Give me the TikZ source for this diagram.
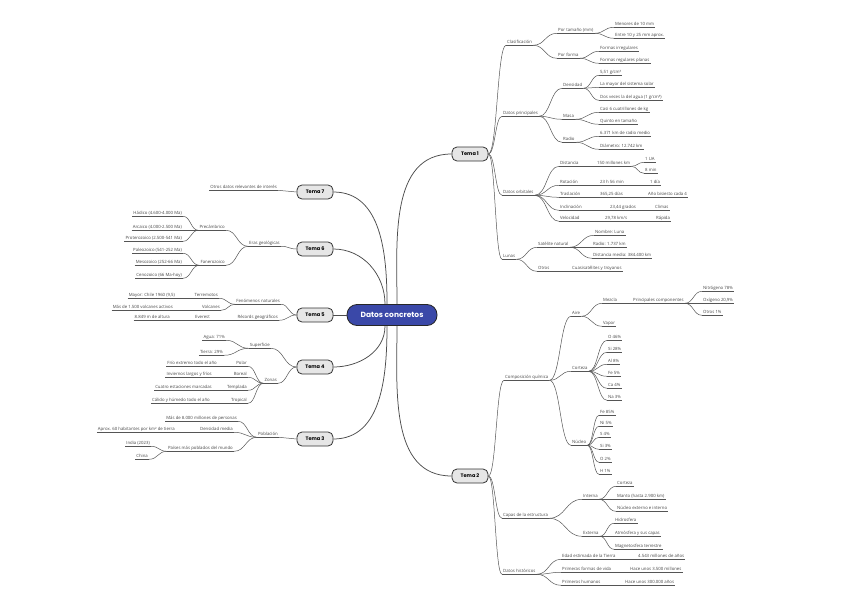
\documentclass[tikz,border=0pt]{standalone}
\usepackage{fontspec}
\setmainfont{Open Sans}
\newfontfamily\popp{Poppins}
\usetikzlibrary{calc}
\definecolor{lnc}{HTML}{555555}
\definecolor{cblue}{HTML}{3A48A8}
\definecolor{tgray}{HTML}{E6E6E6}
\tikzset{
 leaf/.style={font=\fontsize{4.3}{5}\selectfont, text=black!72, inner xsep=1pt, inner ysep=1pt, text height=3.2pt, text depth=1pt},
 uline/.style={draw=lnc, line width=0.55pt},
 link/.style={draw=lnc, line width=0.5pt},
 mainlink/.style={draw=black!70, line width=0.75pt},
 tema/.style={draw=black!80, fill=tgray, line width=0.8pt, rounded corners=5pt, minimum width=36pt, minimum height=14pt, inner sep=0pt, font=\popp\bfseries\fontsize{5}{6}\selectfont},
 central/.style={draw=black!85, fill=cblue, line width=0.8pt, rounded corners=10pt, minimum width=90pt, minimum height=21pt, text=white, font=\popp\bfseries\fontsize{7.5}{9}\selectfont}
}
\newcommand\nR[4]{\node[leaf,anchor=west] (#1) at (#2,#3) {#4};\draw[uline] (#1.south west) -- (#1.south east);}
\newcommand\nL[4]{\node[leaf,anchor=east] (#1) at (#2,#3) {#4};\draw[uline] (#1.south west) -- (#1.south east);}
\newcommand\lk[2]{\draw[link] let \p1=(#1), \p2=(#2) in (\p1) .. controls ({0.5*\x1+0.5*\x2},\y1) and ({0.5*\x1+0.5*\x2},\y2) .. (\p2);}
\newcommand\lkR[2]{\lk{#1.south east}{#2.south west}}
\newcommand\lkL[2]{\lk{#1.south west}{#2.south east}}
\begin{document}
\begin{tikzpicture}[x=1pt,y=-1pt]
\fill[white] (0,0) rectangle (848,599);
\useasboundingbox (0,0) rectangle (848,599);
% ---------- central ----------
\node[central] (c) at (392,315) {Datos concretos};
\node[tema] (t1) at (470,154) {Tema 1};
\node[tema] (t2) at (470,476) {Tema 2};
\node[tema] (t7) at (315,192) {Tema 7};
\node[tema] (t6) at (315,249) {Tema 6};
\node[tema] (t5) at (315,315) {Tema 5};
\node[tema] (t4) at (315,367) {Tema 4};
\node[tema] (t3) at (315,439) {Tema 3};
\draw[mainlink] ([xshift=5pt]c.north) to[out=90,in=180] (t1.west);
\draw[mainlink] ([xshift=5pt]c.south) to[out=-90,in=180] (t2.west);
\draw[mainlink] ([xshift=-5pt]c.north) to[out=90,in=0] (t7.east);
\draw[mainlink] ([xshift=-7pt]c.north) to[out=90,in=0] (t6.east);
\draw[mainlink] (c.west) -- (t5.east);
\draw[mainlink] ([xshift=-7pt]c.south) to[out=-90,in=0] (t4.east);
\draw[mainlink] ([xshift=-5pt]c.south) to[out=-90,in=0] (t3.east);
% ---------- Tema 1 ----------
\nR{a1}{506}{42}{Clasificación}
\nR{a11}{557}{30}{Por tamaño (mm)}
\nR{a111}{614}{24}{Menores de 10 mm}
\nR{a112}{614}{35}{Entre 10 y 25 mm aprox.}
\nR{a12}{557}{55}{Por forma}
\nR{a121}{599}{48}{Formas irregulares}
\nR{a122}{599}{60}{Formas regulares planas}
\nR{a2}{502}{113}{Datos principales}
\nR{a21}{562}{85}{Densidad}
\nR{a211}{599}{72}{5,51 g/cm³}
\nR{a212}{599}{84}{La mayor del sistema solar}
\nR{a213}{599}{97}{Dos veces la del agua (1 g/cm³)}
\nR{a22}{562}{116}{Masa}
\nR{a221}{599}{109}{Casi 6 cuatrillones de kg}
\nR{a222}{599}{121}{Quinto en tamaño}
\nR{a23}{562}{139}{Radio}
\nR{a231}{599}{133}{6.371 km de radio medio}
\nR{a232}{599}{146}{Diámetro: 12.742 km}
\nR{a3}{502}{192}{Datos orbitales}
\nR{r1a}{559}{163}{Distancia}
\nR{r1b}{596}{163}{150 millones km}
\nR{r1c}{644}{159}{1 UA}
\nR{r1d}{644}{170}{8 min}
\nR{r2a}{559}{182}{Rotación}
\nR{r2b}{599}{182}{23 h 56 min}
\nR{r2c}{649}{182}{1 día}
\nR{r3a}{559}{194}{Traslación}
\nR{r3b}{599}{194}{365,25 días}
\nR{r3c}{647}{194}{Año bisiesto cada 4}
\nR{r4a}{559}{207}{Inclinación}
\nR{r4b}{609}{207}{23,44 grados}
\nR{r4c}{654}{207}{Climas}
\nR{r5a}{559}{218}{Velocidad}
\nR{r5b}{604}{218}{29,78 km/s}
\nR{r5c}{655}{218}{Rápida}
\nR{a4}{502}{256}{Lunas}
\nR{a41}{537}{244}{Satélite natural}
\nR{a411}{594}{232}{Nombre: Luna}
\nR{a412}{592}{244}{Radio: 1.737 km}
\nR{a413}{592}{255}{Distancia media: 384.400 km}
\nR{a42}{537}{268}{Otros}
\nR{a421}{571}{268}{Cuasisatélites y troyanos}
\lk{t1.east}{a1.south west}
\lk{t1.east}{a2.south west}
\lk{t1.east}{a3.south west}
\lk{t1.east}{a4.south west}
\lkR{a1}{a11}\lkR{a1}{a12}
\lkR{a11}{a111}\lkR{a11}{a112}
\lkR{a12}{a121}\lkR{a12}{a122}
\lkR{a2}{a21}\lkR{a2}{a22}\lkR{a2}{a23}
\lkR{a21}{a211}\lkR{a21}{a212}\lkR{a21}{a213}
\lkR{a22}{a221}\lkR{a22}{a222}
\lkR{a23}{a231}\lkR{a23}{a232}
\lkR{a3}{r1a}\lkR{a3}{r2a}\lkR{a3}{r3a}\lkR{a3}{r4a}\lkR{a3}{r5a}
\lkR{r1a}{r1b}\lkR{r1b}{r1c}\lkR{r1b}{r1d}
\lkR{r2a}{r2b}\lkR{r2b}{r2c}
\lkR{r3a}{r3b}\lkR{r3b}{r3c}
\lkR{r4a}{r4b}\lkR{r4b}{r4c}
\lkR{r5a}{r5b}\lkR{r5b}{r5c}
\lkR{a4}{a41}\lkR{a4}{a42}
\lkR{a41}{a411}\lkR{a41}{a412}\lkR{a41}{a413}
\lkR{a42}{a421}
% ---------- Tema 2 ----------
\nR{b1}{504}{377}{Composición química}
\nR{b11}{571}{313}{Aire}
\nR{b111}{602}{300}{Mezcla}
\nR{b112}{632}{300}{Principales componentes}
\nR{b1121}{702}{288}{Nitrógeno 78\%}
\nR{b1122}{702}{300}{Oxígeno 20,9\%}
\nR{b1123}{702}{312}{Otros 1\%}
\nR{b113}{602}{323}{Vapor}
\nR{b12}{571}{368}{Corteza}
\nR{b121}{607}{337}{O 46\%}
\nR{b122}{607}{349}{Si 28\%}
\nR{b123}{607}{361}{Al 8\%}
\nR{b124}{607}{373}{Fe 5\%}
\nR{b125}{607}{385}{Ca 4\%}
\nR{b126}{607}{397}{Na 3\%}
\nR{b13}{571}{442}{Núcleo}
\nR{b131}{599}{412}{Fe 85\%}
\nR{b132}{599}{423}{Ni 5\%}
\nR{b133}{599}{434}{S 4\%}
\nR{b134}{599}{446}{Si 3\%}
\nR{b135}{599}{459}{O 2\%}
\nR{b136}{599}{471}{H 1\%}
\nR{b2}{502}{515}{Capas de la estructura}
\nR{b21}{582}{496}{Interna}
\nR{b211}{616}{483}{Corteza}
\nR{b212}{616}{496}{Manto (hasta 2.900 km)}
\nR{b213}{616}{508}{Núcleo externo e interno}
\nR{b22}{582}{533}{Externa}
\nR{b221}{614}{520}{Hidrosfera}
\nR{b222}{614}{533}{Atmósfera y sus capas}
\nR{b223}{614}{546}{Magnetosfera terrestre}
\nR{b3}{502}{571}{Datos históricos}
\nR{b31}{561}{556}{Edad estimada de la Tierra}
\nR{b31x}{637}{556}{4.543 millones de años}
\nR{b32}{561}{569}{Primeras formas de vida}
\nR{b32x}{629}{569}{Hace unos 3.500 millones}
\nR{b33}{561}{582}{Primeros humanos}
\nR{b33x}{624}{582}{Hace unos 300.000 años}
\lk{t2.east}{b1.south west}
\lk{t2.east}{b2.south west}
\lk{t2.east}{b3.south west}
\lkR{b1}{b11}\lkR{b1}{b12}\lkR{b1}{b13}
\lkR{b11}{b111}\lkR{b11}{b113}\lkR{b111}{b112}
\lkR{b112}{b1121}\lkR{b112}{b1122}\lkR{b112}{b1123}
\lkR{b12}{b121}\lkR{b12}{b122}\lkR{b12}{b123}\lkR{b12}{b124}\lkR{b12}{b125}\lkR{b12}{b126}
\lkR{b13}{b131}\lkR{b13}{b132}\lkR{b13}{b133}\lkR{b13}{b134}\lkR{b13}{b135}\lkR{b13}{b136}
\lkR{b2}{b21}\lkR{b2}{b22}
\lkR{b21}{b211}\lkR{b21}{b212}\lkR{b21}{b213}
\lkR{b22}{b221}\lkR{b22}{b222}\lkR{b22}{b223}
\lkR{b3}{b31}\lkR{b3}{b32}\lkR{b3}{b33}
\lkR{b31}{b31x}\lkR{b32}{b32x}\lkR{b33}{b33x}
% ---------- Tema 7 ----------
\nL{g1}{278}{187}{Otros datos relevantes de interés}
\lk{t7.west}{g1.south east}
% ---------- Tema 6 ----------
\nL{f1}{281}{243}{Eras geológicas}
\nL{f11}{226}{227}{Precámbrico}
\nL{f111}{183}{213}{Hádico (4.600-4.000 Ma)}
\nL{f112}{183}{227}{Arcaico (4.000-2.500 Ma)}
\nL{f113}{183}{238}{Proterozoico (2.500-541 Ma)}
\nL{f12}{226}{262}{Fanerozoico}
\nL{f121}{183}{250}{Paleozoico (541-252 Ma)}
\nL{f122}{183}{262}{Mesozoico (252-66 Ma)}
\nL{f123}{183}{275}{Cenozoico (66 Ma-hoy)}
\lk{t6.west}{f1.south east}
\lkL{f1}{f11}\lkL{f1}{f12}
\lkL{f11}{f111}\lkL{f11}{f112}\lkL{f11}{f113}
\lkL{f12}{f121}\lkL{f12}{f122}\lkL{f12}{f123}
% ---------- Tema 5 ----------
\nL{e1}{281}{301}{Fenómenos naturales}
\nL{e11}{219}{295}{Terremotos}
\nL{e11x}{176}{295}{Mayor: Chile 1960 (9,5)}
\nL{e12}{221}{307}{Volcanes}
\nL{e12x}{174}{307}{Más de 1.500 volcanes activos}
\nL{e2}{279}{317}{Récords geográficos}
\nL{e21}{211}{317}{Everest}
\nL{e22}{171}{317}{8.849 m de altura}
\lk{t5.west}{e1.south east}
\lk{t5.west}{e2.south east}
\lkL{e1}{e11}\lkL{e1}{e12}
\lkL{e11}{e11x}\lkL{e12}{e12x}
\lkL{e2}{e21}\lkL{e21}{e22}
% ---------- Tema 4 ----------
\nL{d1}{271}{345}{Superficie}
\nL{d11}{226}{337}{Agua: 71\%}
\nL{d12}{224}{352}{Tierra: 29\%}
\nL{d2}{278}{380}{Zonas}
\nL{d21}{248}{363}{Polar}
\nL{d21x}{218}{363}{Frío extremo todo el año}
\nL{d22}{248}{374}{Boreal}
\nL{d22x}{213}{374}{Inviernos largos y fríos}
\nL{d23}{248}{387}{Templada}
\nL{d23x}{213}{387}{Cuatro estaciones marcadas}
\nL{d24}{248}{400}{Tropical}
\nL{d24x}{211}{400}{Cálido y húmedo todo el año}
\lk{t4.west}{d1.south east}
\lk{t4.west}{d2.south east}
\lkL{d1}{d11}\lkL{d1}{d12}
\lkL{d2}{d21}\lkL{d2}{d22}\lkL{d2}{d23}\lkL{d2}{d24}
\lkL{d21}{d21x}\lkL{d22}{d22x}\lkL{d23}{d23x}\lkL{d24}{d24x}
% ---------- Tema 3 ----------
\nL{h1}{279}{434}{Población}
\nL{h11}{238}{418}{Más de 8.000 millones de personas}
\nL{h12}{234}{429}{Densidad media}
\nL{h12x}{176}{429}{Aprox. 60 habitantes por km² de tierra}
\nL{h13}{234}{448}{Países más poblados del mundo}
\nL{h131}{151}{443}{India (2023)}
\nL{h132}{149}{456}{China}
\lk{t3.west}{h1.south east}
\lkL{h1}{h11}\lkL{h1}{h12}\lkL{h1}{h13}
\lkL{h12}{h12x}
\lkL{h13}{h131}\lkL{h13}{h132}
\end{tikzpicture}
\end{document}
